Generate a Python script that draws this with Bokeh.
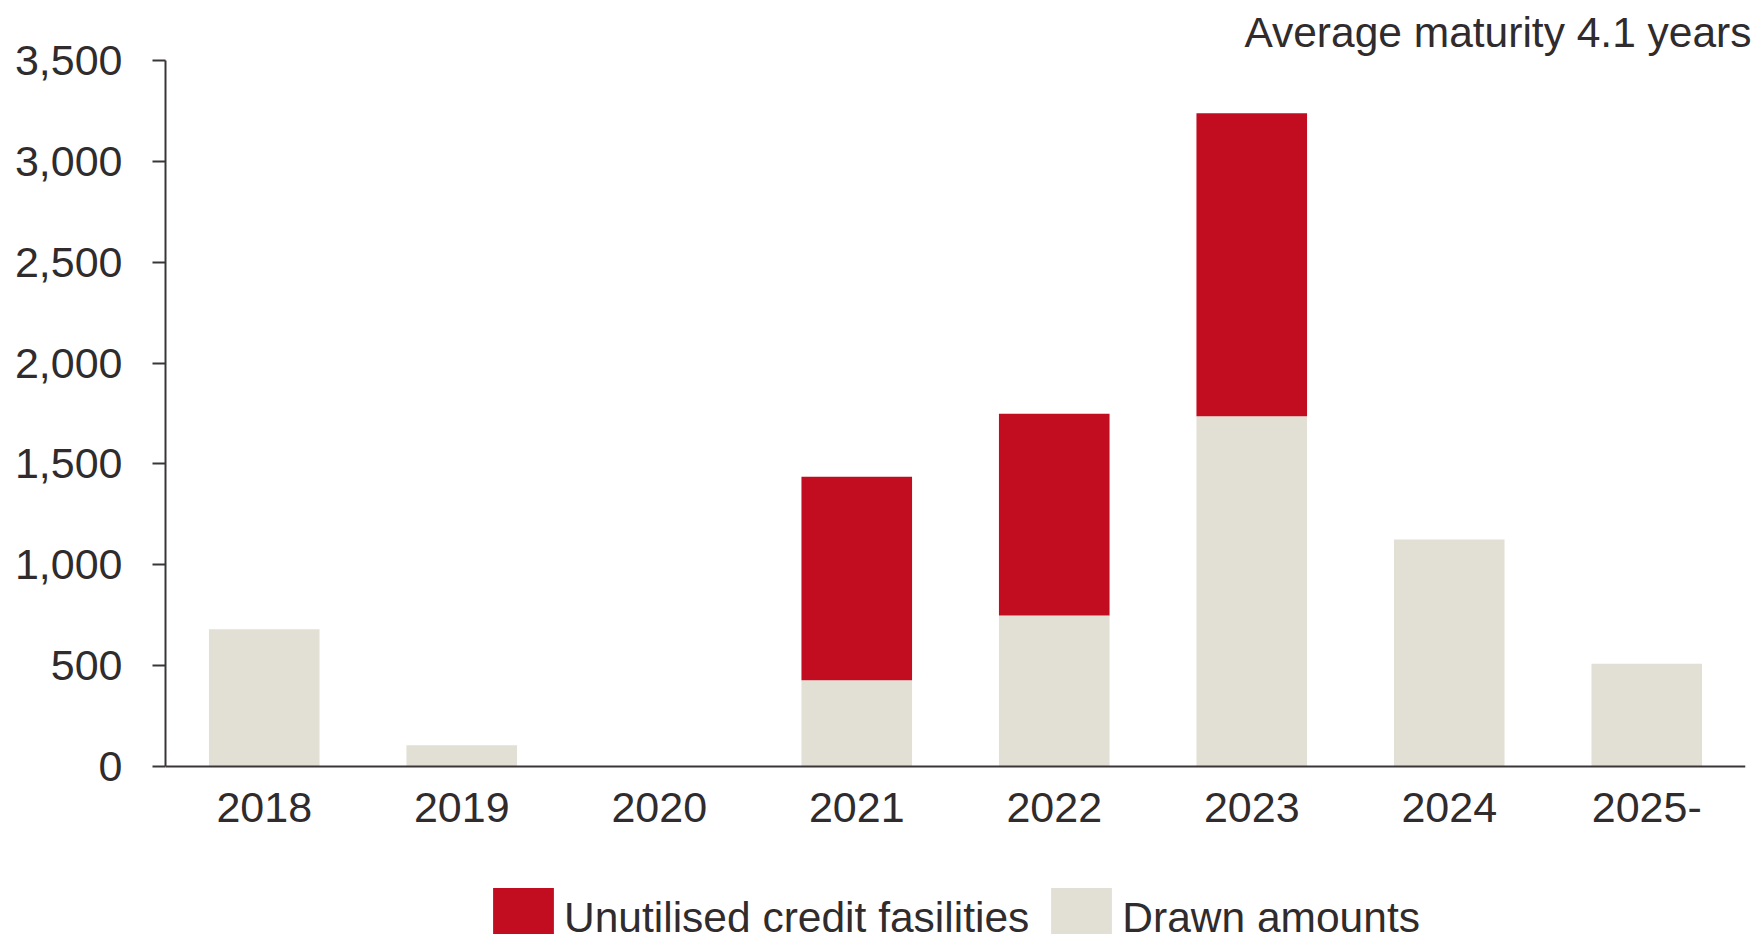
from bokeh.plotting import figure
from bokeh.models import (ColumnDataSource, Range1d, FactorRange, Legend, LegendItem,
                          NumeralTickFormatter)
from bokeh.embed import file_html
from bokeh.resources import INLINE

years = ["2018", "2019", "2020", "2021", "2022", "2023", "2024", "2025-"]
drawn = [680, 105, 0, 427, 749, 1736, 1125, 509]
unutilised = [0, 0, 0, 1010, 1000, 1502, 0, 0]
y_ticks = [0, 500, 1000, 1500, 2000, 2500, 3000, 3500]

RED = "#C10D1F"
BEIGE = "#E2E0D5"
TXT = "#302B2C"
AX = "#3A3637"
FONT = "Liberation Sans"

# frame spans from y=60 px to the bottom of the canvas (934 px); value 0 sits at 766 px
Y_MAX = 3500
Y_MIN = -Y_MAX * (934 - 766) / (766 - 60)

source = ColumnDataSource(dict(year=years, drawn=drawn, unutilised=unutilised))

p = figure(width=1758, height=934, x_range=FactorRange(*years, range_padding=0),
           y_range=Range1d(Y_MIN, Y_MAX), output_backend="svg", toolbar_location=None,
           min_border_left=165, min_border_right=13, min_border_top=60, min_border_bottom=0,
           title="Average maturity 4.1 years")
p.outline_line_color = None
p.xgrid.grid_line_color = None
p.ygrid.grid_line_color = None
p.background_fill_color = "white"
p.border_fill_color = "white"

p.title.align = "right"
p.title.offset = -6
p.title.standoff = 9
p.title.text_font = FONT
p.title.text_font_size = "42.5px"
p.title.text_font_style = "normal"
p.title.text_color = TXT

r = p.vbar_stack(["drawn", "unutilised"], x="year", width=0.56, color=[BEIGE, RED],
                 line_color=None, source=source)

# y axis
p.yaxis.ticker = y_ticks
p.yaxis.bounds = (0, Y_MAX)
p.yaxis.formatter = NumeralTickFormatter(format="0,0")
p.yaxis.major_label_text_font = FONT
p.yaxis.major_label_text_font_size = "43px"
p.yaxis.major_label_text_color = TXT
p.yaxis.axis_line_color = AX
p.yaxis.axis_line_width = 2
p.yaxis.major_tick_line_color = AX
p.yaxis.major_tick_line_width = 2
p.yaxis.major_tick_out = 13
p.yaxis.major_tick_in = 0
p.yaxis.minor_tick_line_color = None
p.yaxis.major_label_standoff = 30

# x axis drawn at value 0
p.xaxis.fixed_location = 0
p.xaxis.major_label_text_font = FONT
p.xaxis.major_label_text_font_size = "43px"
p.xaxis.major_label_text_color = TXT
p.xaxis.axis_line_color = AX
p.xaxis.axis_line_width = 2
p.xaxis.major_tick_line_color = None
p.xaxis.major_tick_out = 0
p.xaxis.major_tick_in = 0
p.xaxis.major_label_standoff = 26

legend = Legend(items=[LegendItem(label="Unutilised credit fasilities", renderers=[r[1]]),
                       LegendItem(label="Drawn amounts", renderers=[r[0]])],
                orientation="horizontal", location=(320, -22),
                glyph_width=76, glyph_height=76, label_standoff=3, spacing=14,
                padding=0, margin=0, border_line_color=None, background_fill_alpha=0,
                label_text_font=FONT, label_text_font_size="42.5px", label_text_color=TXT,
                label_height=76)
p.add_layout(legend, "center")

open("out.html", "w").write(file_html(p, INLINE))
